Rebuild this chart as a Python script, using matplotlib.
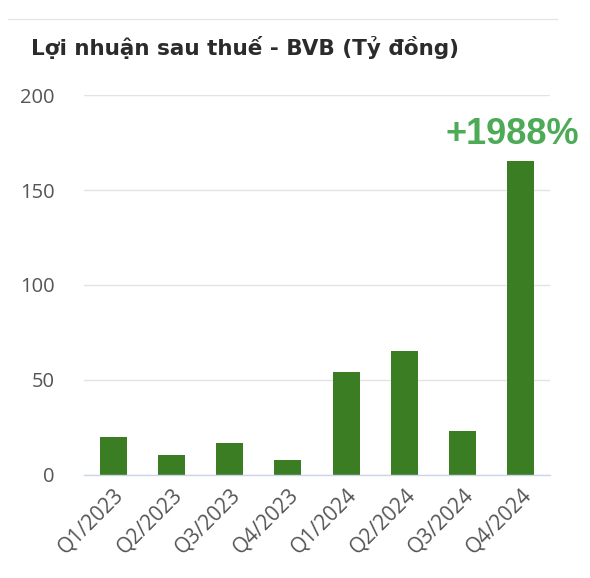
import matplotlib
matplotlib.use("Agg")
import matplotlib.pyplot as plt
from matplotlib.lines import Line2D

categories = ["Q1/2023", "Q2/2023", "Q3/2023", "Q4/2023",
              "Q1/2024", "Q2/2024", "Q3/2024", "Q4/2024"]
values = [19.8, 10.6, 16.8, 7.8, 54.2, 65.4, 22.8, 165.6]
yticks = [0, 50, 100, 150, 200]
title = "Lợi nhuận sau thuế - BVB (Tỷ đồng)"
annotation = "+1988%"

W, H = 590, 578
fig = plt.figure(figsize=(W / 100, H / 100), dpi=100)
ax = fig.add_axes([84 / W, (H - 474.7) / H, (550 - 84) / W, (474.7 - 95.3) / H])

x = range(len(categories))
ax.bar(x, values, width=0.46, color="#3b7d23", zorder=3)
ax.set_xlim(-0.5, len(categories) - 0.5)
ax.set_ylim(0, 200)
ax.set_yticks(yticks)
ax.set_yticklabels([str(v) for v in yticks], fontsize=14.5, color="#555555",
                   family="Open Sans")
ax.tick_params(axis="y", length=0, pad=21)
ax.set_xticks(list(x))
ax.set_xticklabels(categories, rotation=45, ha="right", va="top",
                   rotation_mode="anchor", fontsize=15, color="#555555",
                   family="Open Sans")
ax.tick_params(axis="x", length=0, pad=7)
ax.grid(axis="y", color="#e3e3e3", linewidth=1, zorder=0)
for s in ["top", "right", "left"]:
    ax.spines[s].set_visible(False)
ax.spines["bottom"].set_color("#ccd6eb")
ax.spines["bottom"].set_linewidth(1)
ax.spines["bottom"].set_zorder(4)

ax.annotate(annotation, xy=(7, values[-1]), xytext=(-6, 6),
            textcoords="offset points", ha="center", va="bottom",
            fontsize=26, fontweight="bold", color="#4dab57",
            family="Liberation Sans", annotation_clip=False)

fig.text(31 / W, 1 - 47.5 / H, title, fontsize=15.5, fontweight="bold",
         color="#2b2b2b", family="DejaVu Sans", ha="left", va="center")
fig.add_artist(Line2D([8 / W, 557 / W], [1 - 19 / H, 1 - 19 / H],
                      color="#e6e6e6", linewidth=1, transform=fig.transFigure))

fig.savefig("out.png", dpi=100)
